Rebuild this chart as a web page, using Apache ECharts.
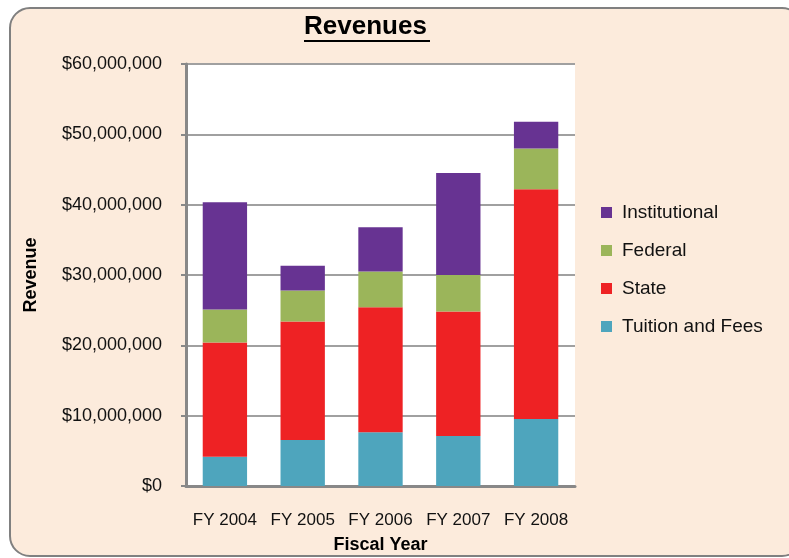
<!DOCTYPE html>
<html>
<head>
<meta charset="utf-8">
<script src="https://cdn.jsdelivr.net/npm/echarts@6/dist/echarts.min.js"></script>
<style>
  html, body { margin: 0; padding: 0; background: #fff; }
  #chart { width: 789px; height: 558px; }
</style>
</head>
<body>
<div id="chart"></div>
<script>
var years = ['FY 2004', 'FY 2005', 'FY 2006', 'FY 2007', 'FY 2008'];
var tuition = [4170000, 6540000, 7640000, 7100000, 9530000];
var state = [16230000, 16860000, 17760000, 17700000, 32670000];
var federal = [4700000, 4400000, 5100000, 5200000, 5800000];
var institutional = [15250000, 3500000, 6300000, 14500000, 3800000];
var yTicks = [0, 10000000, 20000000, 30000000, 40000000, 50000000, 60000000];

var font = 'Liberation Sans, Arial, sans-serif';

function money(v) {
    return '$' + String(v).replace(/\B(?=(\d{3})+(?!\d))/g, ',');
}

var myChart = echarts.init(document.getElementById('chart'));
myChart.setOption({
    animation: false,
    textStyle: { fontFamily: font },
    color: ['#4EA5BD', '#EE2224', '#9BB55A', '#673392'],
    graphic: [
        {
            type: 'rect',
            z: -10,
            shape: { x: 10, y: 8, width: 792, height: 548, r: 20 },
            style: { fill: '#FCEBDC', stroke: '#808080', lineWidth: 2 }
        },
        {
            type: 'text',
            left: 304,
            top: 14,
            style: { text: 'Revenues', font: 'bold 26px ' + font, fill: '#000' }
        },
        {
            type: 'rect',
            shape: { x: 304, y: 40, width: 126, height: 2 },
            style: { fill: '#000' }
        }
    ],
    grid: {
        left: 186,
        right: 214,
        top: 64,
        bottom: 72,
        outerBoundsMode: 'none',
        show: true,
        backgroundColor: '#fff',
        borderWidth: 0
    },
    legend: {
        orient: 'vertical',
        left: 596,
        top: 198,
        itemWidth: 11,
        itemHeight: 11,
        itemGap: 19,
        icon: 'rect',
        textStyle: { fontSize: 19, color: '#111', fontFamily: font, padding: [0, 0, 0, 5] },
        data: ['Institutional', 'Federal', 'State', 'Tuition and Fees']
    },
    xAxis: {
        type: 'category',
        data: years,
        name: 'Fiscal Year',
        nameLocation: 'middle',
        nameGap: 50,
        nameTextStyle: { fontSize: 18, fontWeight: 'bold', color: '#000' },
        axisTick: { show: false },
        axisLine: { lineStyle: { color: '#888', width: 3 } },
        axisLabel: { fontSize: 17, color: '#111', margin: 26, interval: 0 }
    },
    yAxis: {
        type: 'value',
        min: yTicks[0],
        max: yTicks[yTicks.length - 1],
        interval: yTicks[1] - yTicks[0],
        name: 'Revenue',
        nameLocation: 'middle',
        nameGap: 146,
        nameTextStyle: { fontSize: 18, fontWeight: 'bold', color: '#000' },
        axisLine: { show: true, lineStyle: { color: '#888', width: 3 } },
        axisTick: { show: true, length: 5, lineStyle: { color: '#888', width: 2 } },
        splitLine: { lineStyle: { color: '#a0a0a0', width: 2 } },
        axisLabel: { fontSize: 18, color: '#111', margin: 24, formatter: money }
    },
    series: [
        { name: 'Tuition and Fees', type: 'bar', stack: 'total', barWidth: '57%', data: tuition },
        { name: 'State', type: 'bar', stack: 'total', data: state },
        { name: 'Federal', type: 'bar', stack: 'total', data: federal },
        { name: 'Institutional', type: 'bar', stack: 'total', data: institutional }
    ]
});
</script>
</body>
</html>
